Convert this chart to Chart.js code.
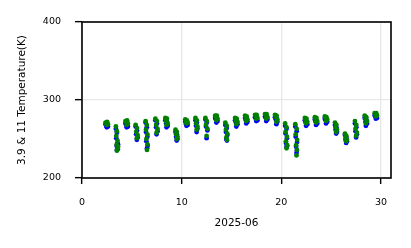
<!DOCTYPE html>
<html>
<head>
<meta charset="utf-8">
<script src="https://cdn.jsdelivr.net/npm/chart.js@4.4.1/dist/chart.umd.min.js"></script>
<style>
  html, body { margin: 0; padding: 0; background: #fff; }
  #wrap { width: 411px; height: 248px; }
</style>
</head>
<body>
<div id="wrap"><canvas id="tempChart" width="411" height="248"></canvas></div>
<script>
// observation time, day of month (2025-06)
var obsDay = [
  2.36, 2.52, 2.44, 2.60, 2.48,
  3.40, 3.50, 3.44, 3.56, 3.48, 3.58, 3.50, 3.62,
  4.36, 4.52, 4.44, 4.60, 4.48,
  5.38, 5.52, 5.44, 5.58, 5.50,
  6.38, 6.50, 6.42, 6.56, 6.46, 6.58, 6.52,
  7.36, 7.52, 7.44, 7.58, 7.48,
  8.36, 8.52, 8.44, 8.60, 8.48,
  9.38, 9.52, 9.44, 9.58, 9.50,
  10.36, 10.52, 10.44, 10.60, 10.48,
  11.38, 11.52, 11.44, 11.58, 11.50,
  12.38, 12.52, 12.44, 12.58, 12.50,
  13.36, 13.52, 13.44, 13.60, 13.48,
  14.38, 14.52, 14.44, 14.58, 14.48, 14.54,
  15.36, 15.52, 15.44, 15.60, 15.48,
  16.36, 16.52, 16.44, 16.60, 16.48,
  17.36, 17.52, 17.44, 17.60, 17.48,
  18.36, 18.52, 18.44, 18.60, 18.48,
  19.36, 19.52, 19.44, 19.60, 19.50,
  20.38, 20.52, 20.42, 20.56, 20.46, 20.58, 20.52,
  21.40, 21.54, 21.44, 21.58, 21.48, 21.56, 21.52,
  22.36, 22.52, 22.44, 22.60, 22.48,
  23.36, 23.52, 23.44, 23.60, 23.48,
  24.36, 24.52, 24.44, 24.60, 24.48,
  25.38, 25.52, 25.44, 25.58, 25.50,
  26.38, 26.52, 26.44, 26.58, 26.50,
  27.38, 27.52, 27.44, 27.58, 27.50,
  28.36, 28.52, 28.44, 28.60, 28.48,
  29.36, 29.52, 29.44, 29.60, 29.48
];

// 11 um brightness temperature (K)
var bt11 = [
  271, 272, 270, 269, 268,
  266, 260, 254, 248, 243, 238, 235, 240,
  273, 274, 272, 270, 268,
  268, 264, 259, 255, 251,
  273, 268, 262, 256, 250, 243, 236,
  276, 273, 268, 263, 258,
  277, 276, 273, 270, 268,
  262, 259, 256, 253, 250,
  275, 274, 272, 271, 270,
  277, 274, 270, 266, 262,
  277, 273, 268, 263, 254,
  280, 280, 278, 276, 274,
  271, 267, 262, 257, 252, 249,
  277, 276, 274, 272, 269,
  280, 279, 277, 275, 273,
  281, 281, 279, 277, 276,
  282, 282, 280, 278, 276,
  281, 280, 278, 275, 272,
  270, 265, 259, 253, 247, 242, 238,
  269, 263, 256, 249, 242, 236, 229,
  277, 276, 274, 272, 270,
  278, 277, 275, 273, 271,
  279, 278, 277, 275, 273,
  271, 268, 265, 262, 259,
  257, 254, 251, 249, 247,
  273, 268, 263, 258, 254,
  280, 278, 276, 273, 270,
  283, 283, 282, 280, 279
];

// 3.9 um brightness temperature (K)
var bt39 = [
  269, 270, 267, 266, 265,
  263, 258, 251, 245, 241, 237, 236, 243,
  270, 271, 268, 266, 265,
  266, 261, 256, 252, 249,
  271, 265, 259, 253, 247, 241, 238,
  274, 270, 265, 260, 256,
  274, 272, 270, 267, 265,
  259, 256, 253, 250, 248,
  272, 271, 269, 268, 267,
  274, 271, 267, 263, 259,
  275, 271, 266, 261, 251,
  277, 277, 275, 273, 271,
  268, 264, 259, 255, 250, 248,
  274, 273, 271, 269, 266,
  277, 276, 274, 272, 270,
  278, 278, 276, 274, 273,
  279, 279, 277, 275, 273,
  278, 277, 275, 272, 269,
  267, 263, 257, 251, 245, 241, 240,
  266, 260, 253, 246, 240, 235, 232,
  274, 273, 271, 269, 267,
  275, 274, 272, 270, 268,
  276, 275, 274, 272, 270,
  268, 265, 262, 259, 257,
  255, 252, 249, 247, 245,
  270, 265, 260, 256, 252,
  277, 275, 272, 270, 267,
  280, 280, 279, 277, 276
];

var xTicks = [0, 10, 20, 30];
var yTicks = [200, 300, 400];

var fontFam = "'DejaVu Sans', sans-serif";
var tickFont = { family: fontFam, size: 9.5 };
var titleFont = { family: fontFam, size: 10.5 };

function toPoints(xs, ys) {
  var out = [];
  for (var i = 0; i < xs.length; i++) out.push({ x: xs[i], y: ys[i] });
  return out;
}

// black box round the plot area, like a matplotlib frame
var frameBox = {
  id: 'frameBox',
  afterDraw: function (chart) {
    var a = chart.chartArea, c = chart.ctx;
    c.save();
    c.strokeStyle = '#000';
    c.lineWidth = 1.6;
    c.strokeRect(a.left, a.top, a.right - a.left, a.bottom - a.top);
    c.restore();
  }
};

new Chart(document.getElementById('tempChart'), {
  type: 'scatter',
  data: {
    datasets: [
      {
        label: '11',
        data: toPoints(obsDay, bt11),
        backgroundColor: '#008000',
        borderWidth: 0,
        pointRadius: 2.4,
        pointHoverRadius: 2.4
      },
      {
        label: '3.9',
        data: toPoints(obsDay, bt39),
        backgroundColor: '#0000ff',
        borderWidth: 0,
        pointRadius: 2.4,
        pointHoverRadius: 2.4
      }
    ]
  },
  plugins: [frameBox],
  options: {
    responsive: false,
    animation: false,
    events: [],
    layout: { padding: { left: 0, right: 20, top: 22, bottom: 0 } },
    plugins: { legend: { display: false }, tooltip: { enabled: false } },
    scales: {
      x: {
        type: 'linear',
        min: 0,
        max: 31,
        afterBuildTicks: function (s) { s.ticks = xTicks.map(function (v) { return { value: v }; }); },
        afterFit: function (s) { s.height = 70; },
        ticks: { font: tickFont, color: '#000', padding: 13, maxRotation: 0 },
        grid: { color: '#e8e8e8', lineWidth: 1.3, tickColor: '#000', tickLength: 6, tickWidth: 1.4 },
        border: { display: false },
        title: { display: true, text: '2025-06', color: '#000', font: titleFont, padding: { top: 0, bottom: 18 } }
      },
      y: {
        type: 'linear',
        min: 200,
        max: 400,
        afterBuildTicks: function (s) { s.ticks = yTicks.map(function (v) { return { value: v }; }); },
        afterFit: function (s) { s.width = 82; },
        ticks: { font: tickFont, color: '#000', padding: 14 },
        grid: { color: '#e8e8e8', lineWidth: 1.3, tickColor: '#000', tickLength: 7, tickWidth: 1.4 },
        border: { display: false },
        title: { display: true, text: '3.9 & 11 Temperature(K)', color: '#000', font: titleFont, padding: { top: 15.5, bottom: 0 } }
      }
    }
  }
});
</script>
</body>
</html>
